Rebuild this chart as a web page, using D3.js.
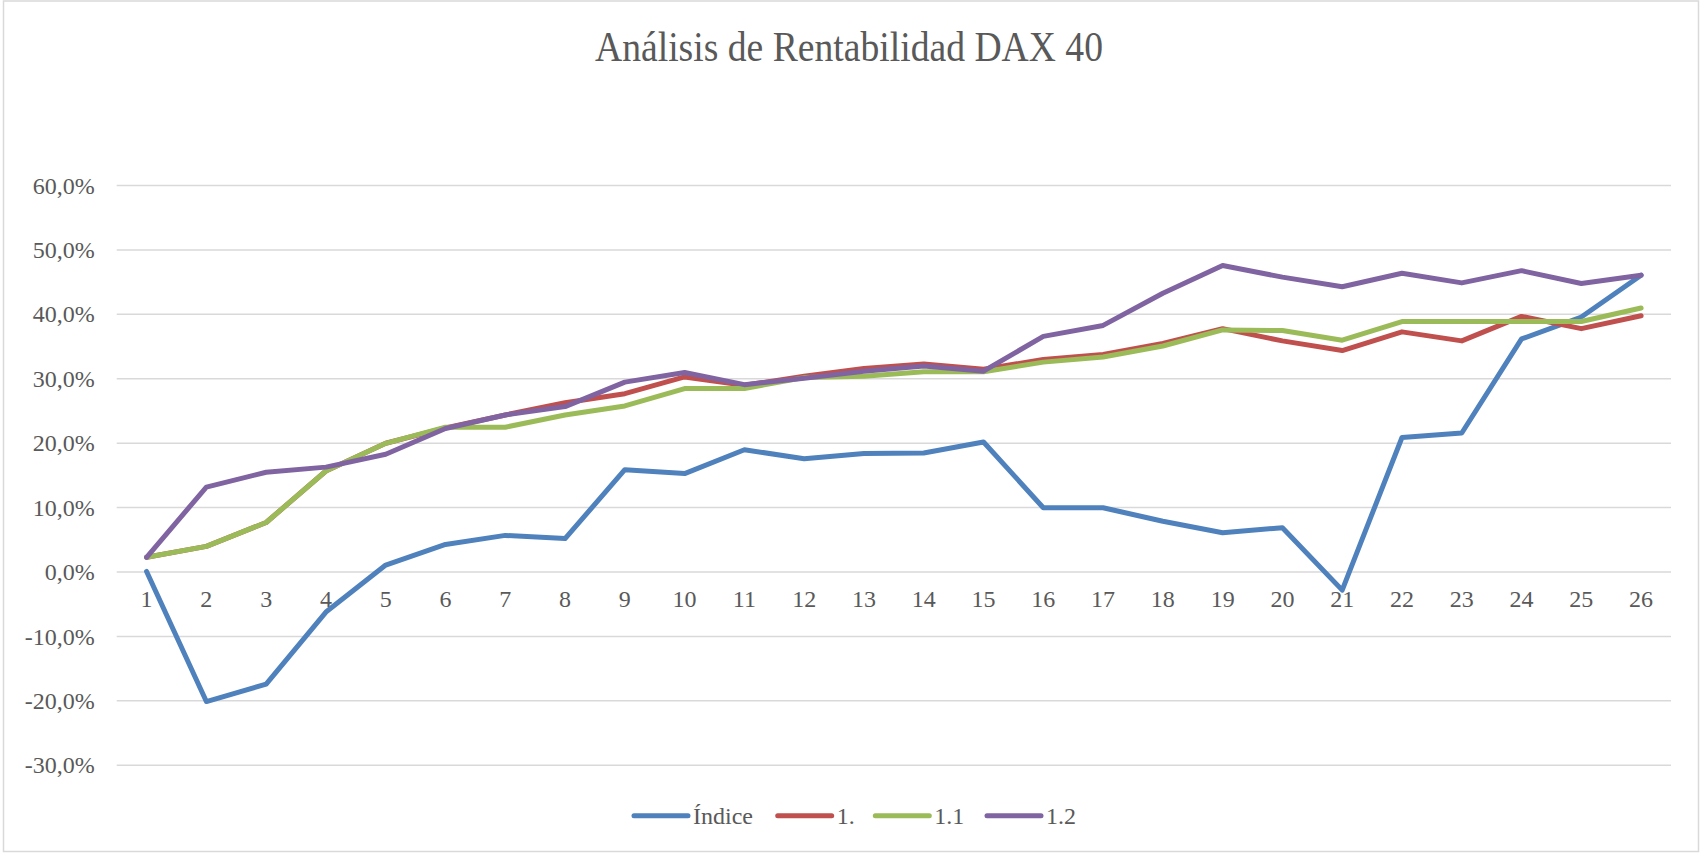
<!DOCTYPE html>
<html>
<head>
<meta charset="utf-8">
<script src="https://cdn.jsdelivr.net/npm/d3@7"></script>
<style>
  body { margin: 0; background: #fff; }
  svg text { font-family: "Liberation Serif", "DejaVu Serif", serif; fill: #595959; }
</style>
</head>
<body>
<div id="chart"></div>
<script>
// Data (values in %)
var periods = d3.range(1, 27).map(String);
var seriesNames = ["Índice", "1.", "1.1", "1.2"];
var seriesColors = ["#4F81BD", "#C0504D", "#9BBB59", "#8064A2"];

var indice = [0.0, -20.2, -17.5, -6.3, 1.0, 4.2, 5.6, 5.1, 15.8, 15.2, 18.9, 17.5, 18.3, 18.4, 20.1,
  9.9, 9.9, 7.8, 6.0, 6.8, -2.9, 20.8, 21.5, 36.1, 39.5, 46.0];
var serie1 = [2.2, 3.9, 7.6, 15.6, 19.9, 22.3, 24.3, 26.2, 27.6, 30.2, 28.9, 30.3, 31.5, 32.2, 31.4,
  32.9, 33.7, 35.4, 37.7, 35.8, 34.3, 37.2, 35.8, 39.6, 37.7, 39.7];
var serie11 = [2.2, 3.9, 7.6, 15.6, 19.9, 22.4, 22.4, 24.3, 25.7, 28.4, 28.4, 30.1, 30.3, 31.0, 31.0,
  32.5, 33.3, 35.0, 37.5, 37.4, 35.9, 38.8, 38.8, 38.8, 38.8, 40.9];
var serie12 = [2.2, 13.1, 15.4, 16.2, 18.2, 22.2, 24.3, 25.6, 29.4, 30.9, 29.0, 30.0, 31.1, 31.9, 31.1,
  36.5, 38.2, 43.2, 47.5, 45.7, 44.2, 46.3, 44.8, 46.7, 44.7, 46.0];
var yTicks = [-30, -20, -10, 0, 10, 20, 30, 40, 50, 60];

var allSeries = [indice, serie1, serie11, serie12];

var svgWidth = 1701;
var svgHeight = 853;

// plot area
var plot = { left: 116.7, right: 1671, top: 185, bottom: 764.7 };

var svg = d3.select("#chart")
  .append("svg")
  .attr("width", svgWidth)
  .attr("height", svgHeight);

// chart border
svg.append("rect")
  .attr("x", 3.5).attr("y", 1)
  .attr("width", 1695).attr("height", 850.5)
  .attr("fill", "#fff")
  .attr("stroke", "#d9d9d9")
  .attr("stroke-width", 1.5);

// title (narrow serif in the original, so squeeze it to the same width)
svg.append("text")
  .attr("x", 849)
  .attr("y", 61)
  .attr("text-anchor", "middle")
  .attr("font-size", "43px")
  .attr("textLength", 508)
  .attr("lengthAdjust", "spacingAndGlyphs")
  .text("Análisis de Rentabilidad DAX 40");

var xScale = d3.scaleBand()
  .domain(periods)
  .range([plot.left, plot.right]);

var yScale = d3.scaleLinear()
  .domain([-30, 60])
  .range([plot.bottom, plot.top]);

// gridlines + y labels (Excel style: comma decimal, plain hyphen)
var yAxis = d3.axisLeft(yScale)
  .tickValues(yTicks)
  .tickSize(-(plot.right - plot.left))
  .tickPadding(22)
  .tickFormat(d => d.toFixed(1).replace(".", ",") + "%");

var yG = svg.append("g")
  .attr("transform", `translate(${plot.left},0)`)
  .call(yAxis);
yG.select(".domain").remove();
yG.selectAll("line").attr("stroke", "#d9d9d9").attr("stroke-width", 1.5);
yG.selectAll("text")
  .attr("font-size", "24px")
  .attr("font-family", "Liberation Serif")
  .attr("fill", "#595959")
  .attr("dy", "0.34em");

// x labels sit under the 0% line
var xAxis = d3.axisBottom(xScale).tickSize(0).tickPadding(19);
var xG = svg.append("g")
  .attr("transform", `translate(0,${yScale(0)})`)
  .call(xAxis);
xG.select(".domain").remove();
xG.selectAll("text")
  .attr("font-size", "24px")
  .attr("font-family", "Liberation Serif")
  .attr("fill", "#595959");

// lines
var line = d3.line()
  .x((d, i) => xScale(periods[i]) + xScale.bandwidth() / 2)
  .y(d => yScale(d));

svg.append("g").selectAll("path")
  .data(allSeries)
  .enter()
  .append("path")
  .attr("d", d => line(d))
  .attr("fill", "none")
  .attr("stroke", (d, i) => seriesColors[i])
  .attr("stroke-width", 5)
  .attr("stroke-linejoin", "round")
  .attr("stroke-linecap", "round");

// legend
var legendX = [634, 777.7, 875.3, 987];
var legend = svg.append("g");
seriesNames.forEach(function(name, i) {
  legend.append("line")
    .attr("x1", legendX[i]).attr("x2", legendX[i] + 54)
    .attr("y1", 815.7).attr("y2", 815.7)
    .attr("stroke", seriesColors[i])
    .attr("stroke-width", 5)
    .attr("stroke-linecap", "round");
  legend.append("text")
    .attr("x", legendX[i] + 59)
    .attr("y", 824)
    .attr("font-size", "24px")
    .text(name);
});
</script>
</body>
</html>
